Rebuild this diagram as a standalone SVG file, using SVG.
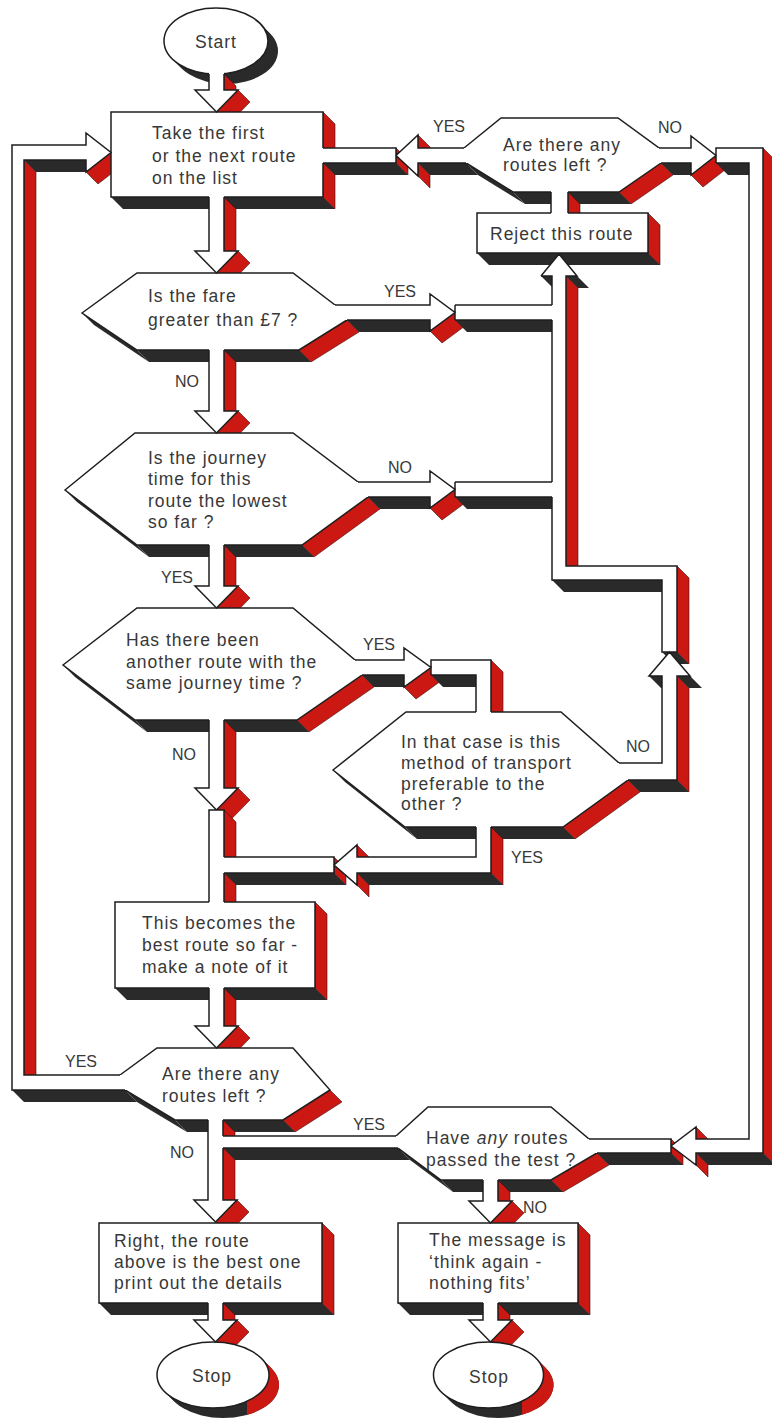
<svg xmlns="http://www.w3.org/2000/svg" width="772" height="1421" viewBox="0 0 772 1421">
<defs>
<style>
.dk{fill:#2a2a2a}
.rd{fill:#cc1812;stroke:#3a1010;stroke-width:0.6;stroke-linejoin:round}
.rf{fill:#cc1812}
.nf{fill:#fff;stroke:#1e1e1e;stroke-width:1.5}
.cf{fill:#fff}
.ol{fill:none;stroke:#1e1e1e;stroke-width:1.5;stroke-linejoin:miter}
.t{font-family:"Liberation Sans",Arial,sans-serif;font-size:17.5px;fill:#383838;letter-spacing:1px}
.c{text-anchor:middle}
.l{font-family:"Liberation Sans",Arial,sans-serif;font-size:16px;fill:#383838}
</style>
<clipPath id="cr1"><rect x="247" y="1330" width="70" height="100"/></clipPath>
<clipPath id="cr2"><rect x="522" y="1330" width="70" height="100"/></clipPath>
</defs>
<rect width="772" height="1421" fill="#fff"/>

<g id="depth">
 <g class="dk">
  <ellipse cx="218" cy="43" rx="52" ry="33"/><ellipse cx="220" cy="45" rx="52" ry="33"/><ellipse cx="222" cy="47" rx="52" ry="33"/><ellipse cx="224" cy="49" rx="52" ry="33"/><ellipse cx="226" cy="51" rx="52" ry="33"/>
  <ellipse cx="215" cy="1377" rx="56" ry="33"/><ellipse cx="217" cy="1379" rx="56" ry="33"/><ellipse cx="219" cy="1381" rx="56" ry="33"/><ellipse cx="221" cy="1383" rx="56" ry="33"/><ellipse cx="223" cy="1385" rx="56" ry="33"/>
  <ellipse cx="490.5" cy="1377" rx="55" ry="33"/><ellipse cx="492.5" cy="1379" rx="55" ry="33"/><ellipse cx="494.5" cy="1381" rx="55" ry="33"/><ellipse cx="496.5" cy="1383" rx="55" ry="33"/><ellipse cx="498.5" cy="1385" rx="55" ry="33"/>
 </g>
 <g class="rf" clip-path="url(#cr1)">
  <ellipse cx="215" cy="1377" rx="56" ry="33"/><ellipse cx="217" cy="1379" rx="56" ry="33"/><ellipse cx="219" cy="1381" rx="56" ry="33"/><ellipse cx="221" cy="1383" rx="56" ry="33"/><ellipse cx="223" cy="1385" rx="56" ry="33"/>
 </g>
 <g class="rf" clip-path="url(#cr2)">
  <ellipse cx="490.5" cy="1377" rx="55" ry="33"/><ellipse cx="492.5" cy="1379" rx="55" ry="33"/><ellipse cx="494.5" cy="1381" rx="55" ry="33"/><ellipse cx="496.5" cy="1383" rx="55" ry="33"/><ellipse cx="498.5" cy="1385" rx="55" ry="33"/>
 </g>
 <polygon class="dk" points="111,197 323,197 335,209 123,209"/>
 <polygon class="rd" points="323,112 335,124 335,209 323,197"/>
 <polygon class="rd" points="347,320 299,350 311,362 359,332"/>
 <polygon class="dk" points="137,350 299,350 311,362 149,362"/>
 <polygon class="dk" points="82,313 137,350 149,362 94,325"/>
 <polygon class="rd" points="368,497 302,545 314,557 380,509"/>
 <polygon class="dk" points="137,545 302,545 314,557 149,557"/>
 <polygon class="dk" points="65,490 137,545 149,557 77,502"/>
 <polygon class="rd" points="362,675 297,720 309,732 374,687"/>
 <polygon class="dk" points="135,720 297,720 309,732 147,732"/>
 <polygon class="dk" points="63,665 135,720 147,732 75,677"/>
 <polygon class="rd" points="628,780 563,827 575,839 640,792"/>
 <polygon class="dk" points="405,827 563,827 575,839 417,839"/>
 <polygon class="dk" points="333,770 405,827 417,839 345,782"/>
 <polygon class="rd" points="661,163 619,192 631,204 673,175"/>
 <polygon class="dk" points="513,192 619,192 631,204 525,204"/>
 <polygon class="dk" points="466,163 513,192 525,204 478,175"/>
 <polygon class="dk" points="477,253 648,253 660,265 489,265"/>
 <polygon class="rd" points="648,213 660,225 660,265 648,253"/>
 <polygon class="dk" points="115,988 315,988 327,1000 127,1000"/>
 <polygon class="rd" points="315,902 327,914 327,1000 315,988"/>
 <polygon class="rd" points="330,1090 283,1120 295,1132 342,1102"/>
 <polygon class="dk" points="175,1120 283,1120 295,1132 187,1132"/>
 <polygon class="dk" points="125,1090 175,1120 187,1132 137,1102"/>
 <polygon class="rd" points="597,1153 551,1180 563,1192 609,1165"/>
 <polygon class="dk" points="441,1180 551,1180 563,1192 453,1192"/>
 <polygon class="dk" points="398,1148 441,1180 453,1192 410,1160"/>
 <polygon class="dk" points="99,1303 322,1303 334,1315 111,1315"/>
 <polygon class="rd" points="322,1223 334,1235 334,1315 322,1303"/>
 <polygon class="dk" points="398,1303 578,1303 590,1315 410,1315"/>
 <polygon class="rd" points="578,1223 590,1235 590,1315 578,1303"/>
 <polygon class="rd" points="224,74 236,86 236,102 224,90"/>
 <polygon class="rd" points="238,90 216.5,112 228.5,124 250,102"/>
 <polygon class="rd" points="224,197 236,209 236,263 224,251"/>
 <polygon class="rd" points="238,251 216.5,273 228.5,285 250,263"/>
 <polygon class="rd" points="224,350 236,362 236,423 224,411"/>
 <polygon class="rd" points="238,411 216.5,433 228.5,445 250,423"/>
 <polygon class="rd" points="224,545 236,557 236,598 224,586"/>
 <polygon class="rd" points="238,586 216.5,608 228.5,620 250,598"/>
 <polygon class="rd" points="224,720 236,732 236,800 224,788"/>
 <polygon class="rd" points="238,788 216.5,810 228.5,822 250,800"/>
 <polygon class="rd" points="224,810 236,822 236,914 224,902"/>
 <polygon class="rd" points="334,857 346,869 346,885 334,873"/>
 <polygon class="dk" points="224,873 334,873 346,885 236,885"/>
 <polygon class="rd" points="491,827 503,839 503,885 491,873"/>
 <polygon class="dk" points="357,873 491,873 503,885 369,885"/>
 <polygon class="rd" points="357,873 369,885 369,897 357,885"/>
 <polygon class="rd" points="357,845 369,857 369,869 357,857"/>
 <polygon class="rd" points="224,988 236,1000 236,1038 224,1026"/>
 <polygon class="rd" points="238,1026 216.5,1048 228.5,1060 250,1038"/>
 <polygon class="dk" points="347,320 430,320 442,332 359,332"/>
 <polygon class="rd" points="455,312.5 430,331 442,343 467,324.5"/>
 <polygon class="dk" points="455,320 552,320 564,332 467,332"/>
 <polygon class="dk" points="368,497 430,497 442,509 380,509"/>
 <polygon class="rd" points="455,489.5 430,508 442,520 467,501.5"/>
 <polygon class="dk" points="455,497 552,497 564,509 467,509"/>
 <polygon class="dk" points="566,276 577,276 589,288 578,288"/>
 <polygon class="dk" points="541,276 552,276 564,288 553,288"/>
 <polygon class="rd" points="566,276 578,288 578,578 566,566"/>
 <polygon class="dk" points="552,580 662,580 674,592 564,592"/>
 <polygon class="rd" points="677,566 689,578 689,664 677,652"/>
 <polygon class="dk" points="662,652 677,652 689,664 674,664"/>
 <polygon class="rd" points="677,676 689,688 689,792 677,780"/>
 <polygon class="dk" points="628,780 677,780 689,792 640,792"/>
 <polygon class="dk" points="677,676 690,676 702,688 689,688"/>
 <polygon class="dk" points="649,676 662,676 674,688 661,688"/>
 <polygon class="dk" points="362,675 404,675 416,687 374,687"/>
 <polygon class="rd" points="431,667.5 404,687 416,699 443,679.5"/>
 <polygon class="rd" points="491,660 503,672 503,724 491,712"/>
 <polygon class="dk" points="431,675 476,675 488,687 443,687"/>
 <polygon class="rd" points="568,192 580,204 580,225 568,213"/>
 <polygon class="dk" points="418,163 466,163 478,175 430,175"/>
 <polygon class="rd" points="418,135 430,147 430,160 418,148"/>
 <polygon class="rd" points="418,163 430,175 430,188 418,176"/>
 <polygon class="rd" points="396,148 408,160 408,175 396,163"/>
 <polygon class="dk" points="323,163 396,163 408,175 335,175"/>
 <polygon class="dk" points="661,163 691,163 703,175 673,175"/>
 <polygon class="rd" points="716,155.5 691,175 703,187 728,167.5"/>
 <polygon class="dk" points="716,163 749,163 761,175 728,175"/>
 <polygon class="rd" points="763,148 775,160 775,1165 763,1153"/>
 <polygon class="dk" points="696,1153 763,1153 775,1165 708,1165"/>
 <polygon class="rd" points="696,1153 708,1165 708,1177 696,1165"/>
 <polygon class="rd" points="696,1127 708,1139 708,1151 696,1139"/>
 <polygon class="rd" points="671,1139 683,1151 683,1165 671,1153"/>
 <polygon class="dk" points="597,1153 671,1153 683,1165 609,1165"/>
 <polygon class="rd" points="24,160 36,172 36,1087 24,1075"/>
 <polygon class="dk" points="24,160 86,160 98,172 36,172"/>
 <polygon class="rd" points="111,152.5 86,172 98,184 123,164.5"/>
 <polygon class="dk" points="12,1090 125,1090 137,1102 24,1102"/>
 <polygon class="rd" points="223,1120 235,1132 235,1212 223,1200"/>
 <polygon class="rd" points="237,1200 215.5,1222 227.5,1234 249,1212"/>
 <polygon class="dk" points="223,1148 398,1148 410,1160 235,1160"/>
 <polygon class="rd" points="498,1180 510,1192 510,1213 498,1201"/>
 <polygon class="rd" points="512,1201 490.5,1223 502.5,1235 524,1213"/>
 <polygon class="rd" points="223,1303 235,1315 235,1332 223,1320"/>
 <polygon class="rd" points="237,1320 215.5,1342 227.5,1354 249,1332"/>
 <polygon class="rd" points="498,1303 510,1315 510,1332 498,1320"/>
 <polygon class="rd" points="512,1320 490.5,1342 502.5,1354 524,1332"/>
</g>

<g id="start"><ellipse class="nf" cx="216" cy="41" rx="52" ry="33"/><text class="t c" x="216" y="48">Start</text></g>
<g id="take-route"><rect class="nf" x="111" y="112" width="212" height="85"/>
 <text class="t" x="152" y="139">Take the first</text><text class="t" x="152" y="162">or the next route</text><text class="t" x="152" y="184">on the list</text></g>
<g id="fare-check"><polygon class="nf" points="82,313 137,273 293,273 335,305 347,320 299,350 137,350"/>
 <text class="t" x="148" y="302">Is the fare</text><text class="t" x="148" y="326">greater than £7 ?</text></g>
<g id="time-check"><polygon class="nf" points="65,490 135,433 293,433 358,482 368,497 302,545 137,545"/>
 <text class="t" x="148" y="464">Is the journey</text><text class="t" x="148" y="485">time for this</text><text class="t" x="148" y="507">route the lowest</text><text class="t" x="148" y="528">so far ?</text></g>
<g id="same-time"><polygon class="nf" points="63,665 137,608 293,608 355,660 362,675 297,720 135,720"/>
 <text class="t" x="126" y="646">Has there been</text><text class="t" x="126" y="668">another route with the</text><text class="t" x="126" y="689">same journey time ?</text></g>
<g id="preferable"><polygon class="nf" points="333,770 406,712 561,712 619,763 628,780 563,827 405,827"/>
 <text class="t" x="401" y="748">In that case is this</text><text class="t" x="401" y="769">method of transport</text><text class="t" x="401" y="790">preferable to the</text><text class="t" x="401" y="810">other ?</text></g>
<g id="routes-left-top"><polygon class="nf" points="464,148 501,118 618,118 659,148 661,163 619,192 513,192 466,163"/>
 <text class="t" x="503" y="151">Are there any</text><text class="t" x="503" y="171">routes left ?</text></g>
<g id="reject"><rect class="nf" x="477" y="213" width="171" height="40"/><text class="t" x="490" y="240">Reject this route</text></g>
<g id="best-so-far"><rect class="nf" x="115" y="902" width="200" height="86"/>
 <text class="t" x="142" y="929">This becomes the</text><text class="t" x="142" y="951">best route so far -</text><text class="t" x="142" y="973">make a note of it</text></g>
<g id="routes-left-bottom"><polygon class="nf" points="120,1075 157,1048 293,1048 330,1090 283,1120 175,1120 125,1090"/>
 <text class="t" x="162" y="1080">Are there any</text><text class="t" x="162" y="1102">routes left ?</text></g>
<g id="any-passed"><polygon class="nf" points="396,1136 428,1107 551,1107 589,1139 597,1153 551,1180 441,1180 398,1148"/>
 <text class="t" x="426" y="1144">Have <tspan font-style="italic">any</tspan> routes</text><text class="t" x="426" y="1166">passed the test ?</text></g>
<g id="print-best"><rect class="nf" x="99" y="1223" width="223" height="80"/>
 <text class="t" x="114" y="1247">Right, the route</text><text class="t" x="114" y="1268">above is the best one</text><text class="t" x="114" y="1289">print out the details</text></g>
<g id="nothing-fits"><rect class="nf" x="398" y="1223" width="180" height="80"/>
 <text class="t" x="429" y="1246">The message is</text><text class="t" x="429" y="1268">‘think again -</text><text class="t" x="429" y="1289">nothing fits’</text></g>
<g id="stop-1"><ellipse class="nf" cx="213" cy="1375" rx="56" ry="33"/><text class="t c" x="212" y="1382">Stop</text></g>
<g id="stop-2"><ellipse class="nf" cx="488.5" cy="1375" rx="55" ry="33"/><text class="t c" x="489" y="1383">Stop</text></g>

<g id="connectors">
 <g class="cf">
  <polygon points="209,66 224,66 224,90 238,90 216.5,112 195,90 209,90"/>
  <polygon points="209,195 224,195 224,251 238,251 216.5,273 195,251 209,251"/>
  <polygon points="209,348 224,348 224,411 238,411 216.5,433 195,411 209,411"/>
  <polygon points="209,543 224,543 224,586 238,586 216.5,608 195,586 209,586"/>
  <polygon points="209,718 224,718 224,788 238,788 216.5,810 195,788 209,788"/>
  <polygon points="209,810 224,810 224,904 209,904"/>
  <polygon points="209,986 224,986 224,1026 238,1026 216.5,1048 195,1026 209,1026"/>
  <polygon points="333,305 430,305 430,294 455,312.5 430,331 430,320 345,320"/>
  <polygon points="455,305 552,305 552,320 455,320"/>
  <polygon points="356,482 430,482 430,471 455,489.5 430,508 430,497 366,497"/>
  <polygon points="455,482 552,482 552,497 455,497"/>
  <polygon points="559,254 577,276 566,276 566,566 677,566 677,652 662,652 662,580 552,580 552,276 541,276"/>
  <polygon points="617,763 662,763 662,676 649,676 669.5,652 690,676 677,676 677,780 626,780"/>
  <polygon points="353,660 404,660 404,648 431,667.5 404,687 404,675 360,675"/>
  <polygon points="431,660 491,660 491,714 476,714 476,675 431,675"/>
  <polygon points="476,825 491,825 491,873 357,873 357,885 334,865 357,845 357,857 476,857"/>
  <polygon points="222,857 334,857 334,873 222,873"/>
  <polygon points="551,190 568,190 568,215 551,215"/>
  <polygon points="466,148 418,148 418,135 396,155.5 418,176 418,163 468,163"/>
  <polygon points="321,148 396,148 396,163 321,163"/>
  <polygon points="657,148 691,148 691,136 716,155.5 691,175 691,163 659,163"/>
  <polygon points="716,148 763,148 763,1153 696,1153 696,1165 671,1146 696,1127 696,1139 749,1139 749,163 716,163"/>
  <polygon points="587,1139 671,1139 671,1153 595,1153"/>
  <polygon points="122,1075 24,1075 24,160 86,160 86,172 111,152.5 86,133 86,145 12,145 12,1090 127,1090"/>
  <polygon points="208,1118 223,1118 223,1200 237,1200 215.5,1222 194,1200 208,1200"/>
  <polygon points="398,1136 223,1136 223,1148 400,1148"/>
  <polygon points="483,1178 498,1178 498,1201 512,1201 490.5,1223 469,1201 483,1201"/>
  <polygon points="208,1301 223,1301 223,1320 237,1320 215.5,1342 194,1320 208,1320"/>
  <polygon points="483,1301 498,1301 498,1320 512,1320 490.5,1342 469,1320 483,1320"/>
 </g>
 <path class="ol" d="M209,74V90H195L216.5,112L238,90H224V74
 M209,197V251H195L216.5,273L238,251H224V197
 M209,350V411H195L216.5,433L238,411H224V350
 M209,545V586H195L216.5,608L238,586H224V545
 M209,720V788H195L216.5,810L238,788H224V720
 M209,902V810H224V857M224,873V902
 M209,988V1026H195L216.5,1048L238,1026H224V988
 M335,305H430V294L455,312.5L430,331V320H347
 M455,305H552M455,320H552M455,305V320
 M358,482H430V471L455,489.5L430,508V497H368
 M455,482H552M455,497H552M455,482V497
 M541,276L559,254L577,276H566V566H677V652H662V580H552V497M552,482V320M552,305V276H541
 M619,763H662V676H649L669.5,652L690,676H677V780H628
 M355,660H404V648L431,667.5L404,687V675H362
 M431,675V660H491V712M476,712V675H431
 M476,827V857H357V845L334,865L357,885V873H491V827
 M224,857H334V873H224
 M551,192V213M568,192V213
 M464,148H418V135L396,155.5L418,176V163H466
 M323,148H396V163H323
 M659,148H691V136L716,155.5L691,175V163H661
 M716,163V148H763V1153H696V1165L671,1146L696,1127V1139H749V163H716
 M589,1139H671V1153H597
 M120,1075H24V160H86V172L111,152.5L86,133V145H12V1090H125
 M223,1120V1136M223,1148V1200H237L215.5,1222L194,1200H208V1120
 M396,1136H223M223,1148H398
 M483,1180V1201H469L490.5,1223L512,1201H498V1180
 M208,1303V1320H194L215.5,1342L237,1320H223V1303
 M483,1303V1320H469L490.5,1342L512,1320H498V1303"/>
 <text class="l" x="433" y="132">YES</text>
 <text class="l" x="658" y="133">NO</text>
 <text class="l" x="384" y="297">YES</text>
 <text class="l" x="175" y="387">NO</text>
 <text class="l" x="388" y="473">NO</text>
 <text class="l" x="161" y="583">YES</text>
 <text class="l" x="363" y="650">YES</text>
 <text class="l" x="172" y="760">NO</text>
 <text class="l" x="626" y="752">NO</text>
 <text class="l" x="511" y="863">YES</text>
 <text class="l" x="65" y="1067">YES</text>
 <text class="l" x="170" y="1158">NO</text>
 <text class="l" x="353" y="1130">YES</text>
 <text class="l" x="523" y="1213">NO</text>
</g>
</svg>
